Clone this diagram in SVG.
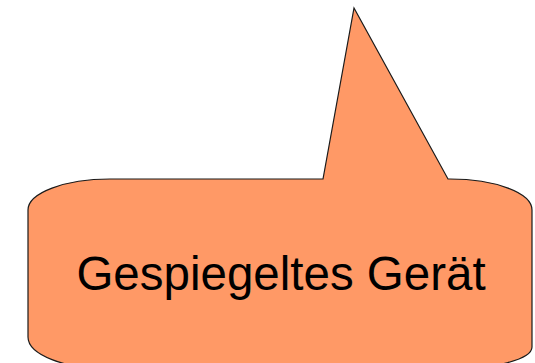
<svg xmlns="http://www.w3.org/2000/svg" width="535" height="363" viewBox="0 0 535 363">
<style>
.callout{fill:#ff9966;stroke:#1a1a1a;stroke-width:1.2;stroke-linejoin:miter}
.label{font-family:"Liberation Sans",Arial,sans-serif;font-size:47.5px;fill:#000}
</style>
<rect width="535" height="363" fill="#ffffff"/>
<g id="callout">
<path class="callout" d="M110,179 L323,179 L354,8 L448,179 L450,179 A82,31 0 0 1 532,210 L532,347 A82,22 0 0 1 450,369 L110,369 A82,32 0 0 1 28,337 L28,210 A82,31 0 0 1 110,179 Z"/>
<text class="label" x="281" y="290" text-anchor="middle">Gespiegeltes Gerät</text>
</g>
<g id="connectors"/>
</svg>
